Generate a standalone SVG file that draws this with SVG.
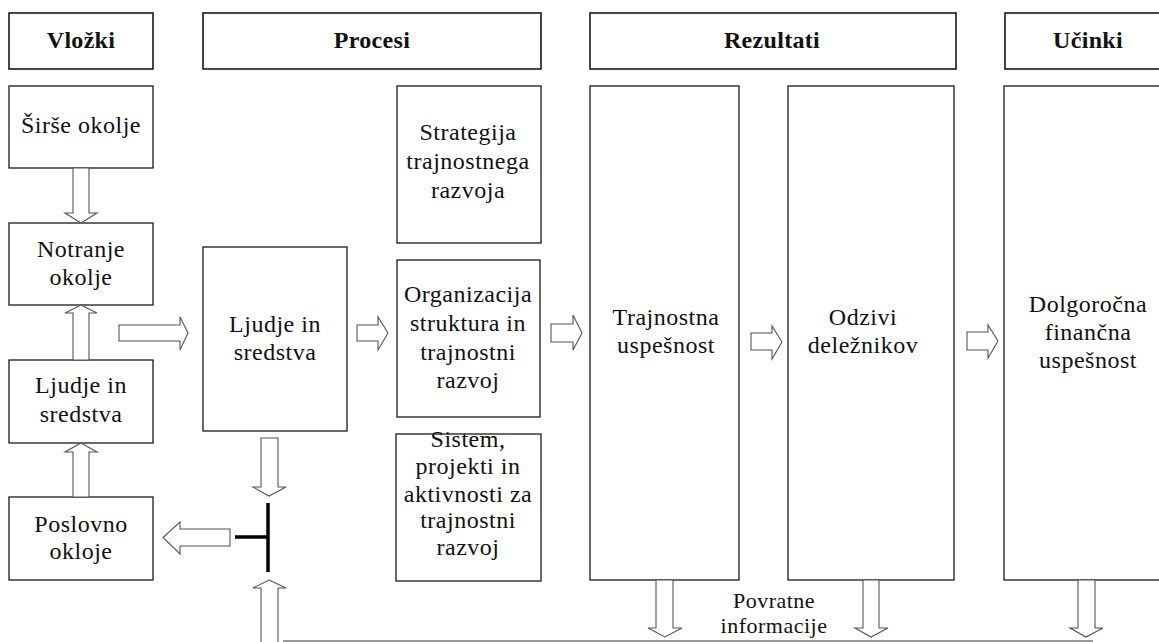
<svg xmlns="http://www.w3.org/2000/svg" width="1159" height="642" viewBox="0 0 1159 642">
<style>
.box{fill:#fff;stroke:#1a1a1a;stroke-width:1.3}
.hbox{fill:#fff;stroke:#1a1a1a;stroke-width:1.6}
text{font-family:'Liberation Serif','Times New Roman',Times,Tinos,'Noto Serif','DejaVu Serif',FreeSerif,serif}
.t{font-size:24px;letter-spacing:0.5px;text-anchor:middle;fill:#111}
.h{font-size:24px;font-weight:bold;letter-spacing:0.3px;text-anchor:middle;fill:#111}
.ar{fill:#fff;stroke:#555;stroke-width:1.1;stroke-linejoin:miter}
.tb{stroke:#000;stroke-width:3.5;fill:none}
.fb{stroke:#777;stroke-width:1.6;fill:none}
</style>
<rect width="1159" height="642" fill="#fff"/>
<g id="h-vlozki"><rect class="hbox" x="9" y="13" width="144" height="56"/><text class="h" x="81" y="48">Vložki</text></g>
<g id="h-procesi"><rect class="hbox" x="203" y="13" width="338" height="56"/><text class="h" x="372" y="48">Procesi</text></g>
<g id="h-rezultati"><rect class="hbox" x="590" y="13" width="366" height="56"/><text class="h" x="772" y="48">Rezultati</text></g>
<g id="h-ucinki"><rect class="hbox" x="1005" y="13" width="165" height="56"/><text class="h" x="1088" y="48">Učinki</text></g>

<g id="sirse"><rect class="box" x="9" y="86" width="144" height="82"/><text class="t" x="81" y="133">Širše okolje</text></g>
<g id="notranje"><rect class="box" x="9" y="223" width="144" height="82"/><text class="t" x="81" y="257">Notranje</text><text class="t" x="81" y="285">okolje</text></g>
<g id="ljudje-l"><rect class="box" x="9" y="360" width="144" height="83"/><text class="t" x="81" y="393">Ljudje in</text><text class="t" x="81" y="422">sredstva</text></g>
<g id="poslovno"><rect class="box" x="9" y="497" width="144" height="83"/><text class="t" x="81" y="532">Poslovno</text><text class="t" x="81" y="559">okloje</text></g>
<g id="ljudje-m"><rect class="box" x="203" y="247" width="144" height="184"/><text class="t" x="275" y="332">Ljudje in</text><text class="t" x="275" y="360">sredstva</text></g>
<g id="strategija"><rect class="box" x="397" y="86" width="144" height="157"/><text class="t" x="468" y="140">Strategija</text><text class="t" x="468" y="169">trajnostnega</text><text class="t" x="468" y="198">razvoja</text></g>
<g id="organizacija"><rect class="box" x="397" y="260" width="143" height="157"/><text class="t" x="468" y="302">Organizacija</text><text class="t" x="468" y="331">struktura in</text><text class="t" x="468" y="360">trajnostni</text><text class="t" x="468" y="388">razvoj</text></g>
<g id="sistem"><rect class="box" x="396" y="434" width="145" height="147"/><text class="t" x="468" y="447">Sistem,</text><text class="t" x="468" y="474">projekti in</text><text class="t" x="468" y="502">aktivnosti za</text><text class="t" x="468" y="528">trajnostni</text><text class="t" x="468" y="555">razvoj</text></g>
<g id="trajnostna"><rect class="box" x="590" y="86" width="149" height="494"/><text class="t" x="666" y="325">Trajnostna</text><text class="t" x="666" y="353">uspešnost</text></g>
<g id="odzivi"><rect class="box" x="788" y="86" width="166" height="494"/><text class="t" x="863" y="325">Odzivi</text><text class="t" x="863" y="353">deležnikov</text></g>
<g id="dolgorocna"><rect class="box" x="1004" y="86" width="166" height="494"/><text class="t" x="1088" y="312">Dolgoročna</text><text class="t" x="1088" y="340">finančna</text><text class="t" x="1088" y="368">uspešnost</text></g>

<g id="connectors">
<polygon class="ar" points="73,168 89,168 89,213 97,213 81,223 65,213 73,213"/>
<polygon class="ar" points="81,305 97,313 89,313 89,360 73,360 73,313 65,313"/>
<polygon class="ar" points="81,443 97,452 89,452 89,497 73,497 73,452 65,452"/>
<polygon class="ar" points="119,325 180,325 180,317 188,333 180,350 180,341 119,341"/>
<polygon class="ar" points="357,325 378,325 378,317 388,333 378,350 378,341 357,341"/>
<polygon class="ar" points="551,324 573,324 573,315 582,333 573,350 573,342 551,342"/>
<polygon class="ar" points="751,333 772,333 772,326 782,342 772,359 772,350 751,350"/>
<polygon class="ar" points="967,332 988,332 988,325 998,341 988,358 988,350 967,350"/>
<polygon class="ar" points="261,438 278,438 278,487 286,487 269,496 253,487 261,487"/>
<polyline class="tb" points="268,503 268,572"/>
<polyline class="tb" points="235,537 268,537"/>
<polygon class="ar" points="230,529 230,546 180,546 180,554 163,537.5 180,522 180,529"/>
<polygon class="ar" points="269,580 286,588 278,588 278,650 261,650 261,588 253,588"/>
<line class="fb" x1="283" y1="641" x2="1093" y2="641"/>
<polygon class="ar" points="656,580 673,580 673,628 682,628 665,637 648,628 656,628"/>
<polygon class="ar" points="863,580 879,580 879,628 888,628 871,637 855,628 863,628"/>
<polygon class="ar" points="1078,580 1095,580 1095,628 1103,628 1086,637 1070,628 1078,628"/>
<text class="t" x="774" y="608" style="font-size:22px">Povratne</text>
<text class="t" x="774" y="633" style="font-size:22px">informacije</text>
</g>
</svg>
